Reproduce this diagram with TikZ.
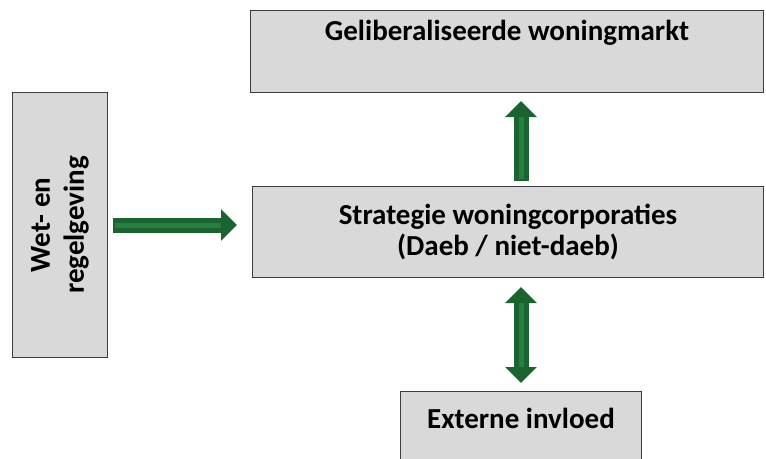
\documentclass[tikz,border=0pt]{standalone}
\usepackage{fontspec}
\setmainfont{Carlito}
\usetikzlibrary{arrows.meta, positioning, calc}

\definecolor{boxgrey}{HTML}{D9D9D9}
\definecolor{boxline}{HTML}{3C3C3C}
\definecolor{arrowgreen}{HTML}{1A6430}
\definecolor{arrowlight}{HTML}{23803E}

\tikzset{
  box/.style={draw=boxline, fill=boxgrey, line width=1pt, inner sep=0pt},
  txt/.style={font=\fontsize{29}{31}\selectfont\bfseries, align=center},
  bigarrow/.style={line width=15pt, arrowgreen, -{Triangle[width=31pt,length=16pt]}},
  bigdarrow/.style={line width=15pt, arrowgreen, {Triangle[width=31pt,length=16pt]}-{Triangle[width=31pt,length=16pt]}},
  stripe/.style={line width=5pt, arrowlight},
}

\begin{document}
\begin{tikzpicture}[x=1pt, y=-1pt]
    \useasboundingbox (0,0) rectangle (766,458);

    % boxes
    \node[box, txt, anchor=north west, minimum width=513pt, text height=30pt, text depth=52pt] (markt) at (250,10) {Geliberaliseerde woningmarkt};
    \node[box, txt, anchor=north west, minimum width=511pt, minimum height=91pt] (strat) at (252,186) {Strategie woningcorporaties\\(Daeb / niet-daeb)};
    \node[box, anchor=north west, minimum width=95pt, minimum height=265pt] (wet) at (12,92) {};
    \node[txt, font=\fontsize{29}{34}\selectfont\bfseries, rotate=90] (wettxt) at (wet.center) {Wet- en\\regelgeving};
    \node[box, txt, anchor=north west, minimum width=241pt, text height=37pt, text depth=40pt] (ext) at (400,391) {Externe invloed};

    % arrows
    \draw[bigarrow, shorten <=5pt, shorten >=15pt] (wet.east) -- (wet.east -| strat.west);
    \draw[stripe, shorten <=7pt, shorten >=31pt] (wet.east) -- (wet.east -| strat.west);

    \draw[bigarrow, shorten <=5pt, shorten >=8pt] (strat.north -| ext.north) -- (markt.south -| ext.north);
    \draw[stripe, shorten <=7pt, shorten >=24pt] (strat.north -| ext.north) -- (markt.south -| ext.north);

    \draw[bigdarrow, shorten <=9pt, shorten >=8pt] (strat.south -| ext.north) -- (ext.north);
    \draw[stripe, shorten <=25pt, shorten >=24pt] (strat.south -| ext.north) -- (ext.north);

\end{tikzpicture}
\end{document}
